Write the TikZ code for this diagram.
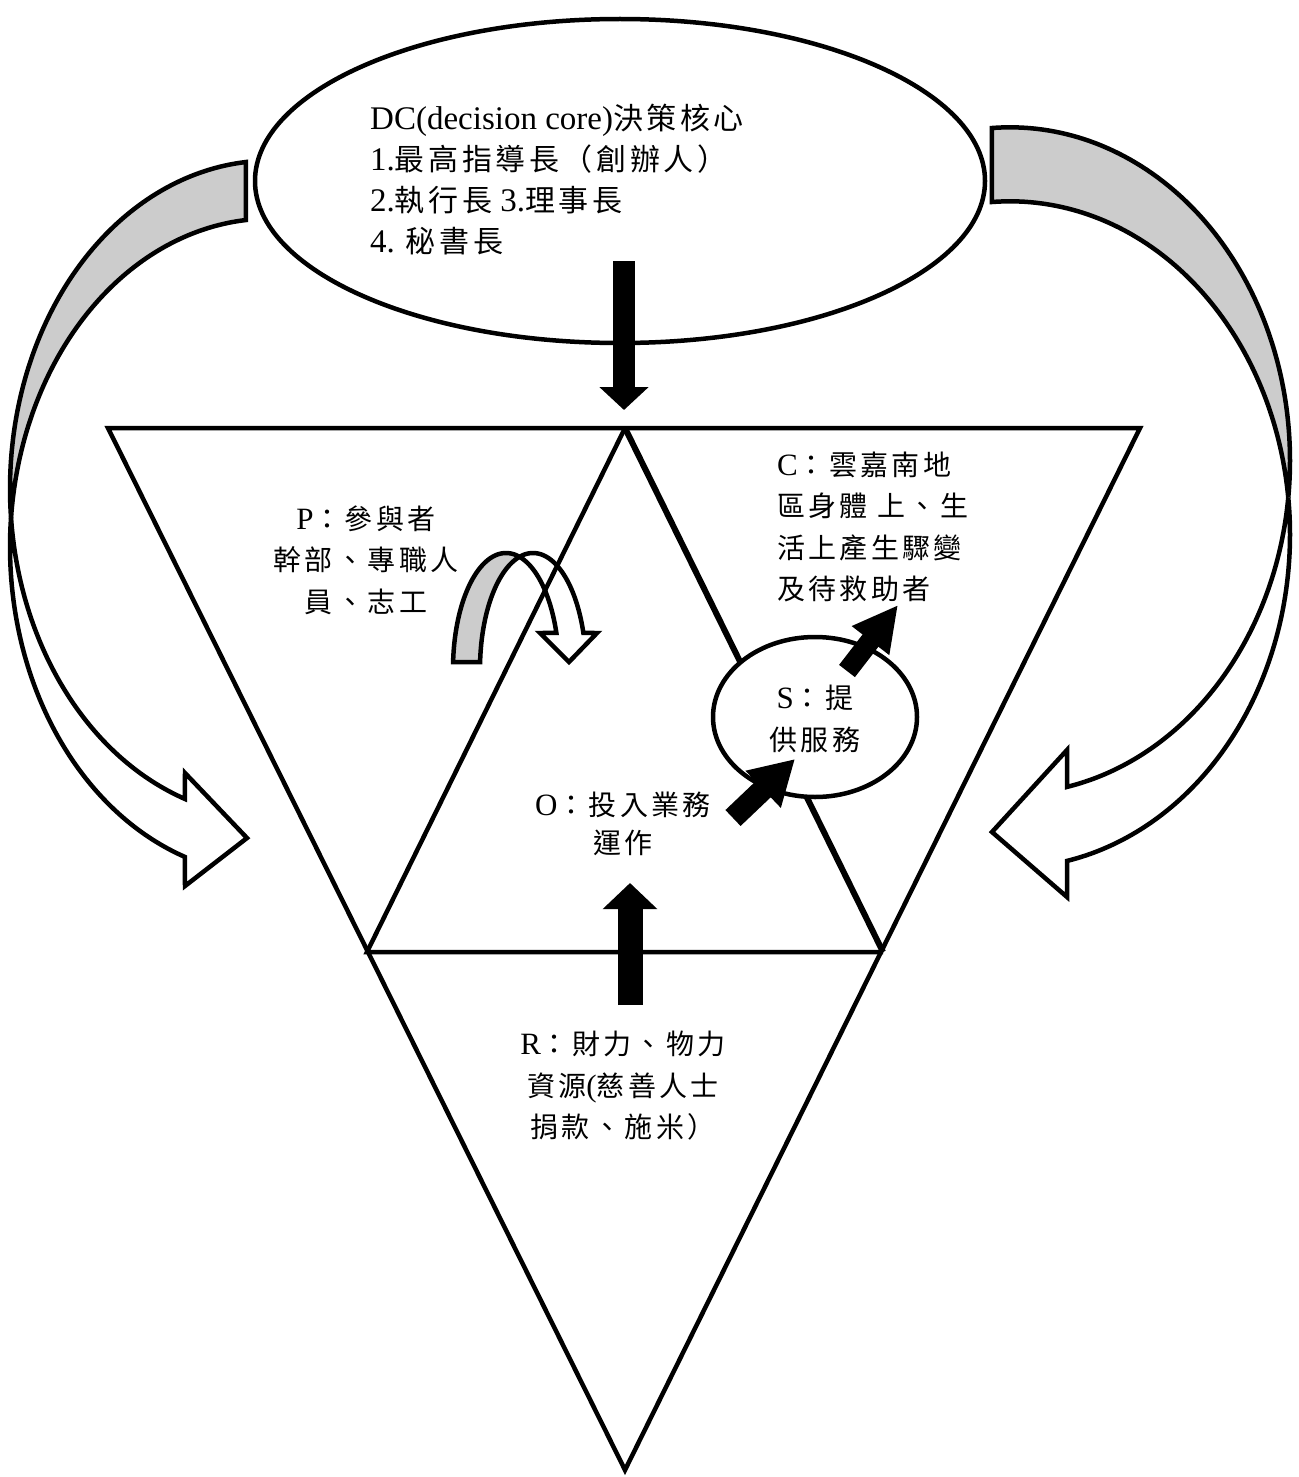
\documentclass[tikz,border=0pt]{standalone}
\usepackage{fontspec}
\setmainfont{Liberation Serif}
\newfontfamily\cjk{Noto Sans CJK TC}[LetterSpace=12]
\newcommand\latn[2]{{\fontsize{#1}{0}\selectfont #2}}
\usetikzlibrary{arrows.meta}
\definecolor{bandgray}{RGB}{204,204,204}
\begin{document}
\begin{tikzpicture}[x=1pt,y=-1pt,
  outl/.style={line width=4.5pt, draw=black, line join=miter},
  txt/.style={font=\fontsize{28}{41.5}\selectfont, inner sep=0pt},
  blockarrow/.style={line width=#1, draw=black}]
\useasboundingbox (0,0) rectangle (1298,1477);
\fill[white] (0,0) rectangle (1298,1477);

% ---- left curved arrow (back band gray, front band white)
\filldraw[outl, fill=bandgray]
  plot[domain=264.7:174.93, samples=80] ({270+260*cos(\x)}, {488.8+328.2*sin(\x)})
  -- plot[domain=185.07:264.7, samples=80] ({270+260*cos(\x)}, {546.8+328.2*sin(\x)})
  -- cycle;
\filldraw[outl, fill=white]
  plot[domain=174.93:109.1, samples=80] ({270+260*cos(\x)}, {488.8+328.2*sin(\x)})
  -- (185,773) -- (247,838) -- (185,886)
  -- plot[domain=109.1:185.07, samples=80] ({270+260*cos(\x)}, {546.8+328.2*sin(\x)})
  -- cycle;

% ---- right curved arrow
\filldraw[outl, fill=bandgray]
  plot[domain=266.3:366.37, samples=80] ({1010+280*cos(\x)}, {460.6+333.3*sin(\x)})
  -- plot[domain=353.63:266.3, samples=80] ({1010+280*cos(\x)}, {534.6+333.3*sin(\x)})
  -- cycle;
\filldraw[outl, fill=white]
  plot[domain=366.37:438.25, samples=80] ({1010+280*cos(\x)}, {460.6+333.3*sin(\x)})
  -- (1067,750) -- (992,832) -- (1067,897)
  -- plot[domain=438.25:353.63, samples=80] ({1010+280*cos(\x)}, {534.6+333.3*sin(\x)})
  -- cycle;

% ---- P curved arrow
\filldraw[outl, fill=bandgray]
  plot[domain=183.46:284.76, samples=60] ({506+53*cos(\x)}, {669+116*sin(\x)})
  -- plot[domain=255.24:183.46, samples=60] ({533+53*cos(\x)}, {669+116*sin(\x)})
  -- cycle;
\filldraw[outl, fill=white]
  plot[domain=284.76:341.9, samples=60] ({506+53*cos(\x)}, {669+116*sin(\x)})
  -- (540,633) -- (569,662) -- (597,633)
  -- plot[domain=341.9:255.24, samples=60] ({533+53*cos(\x)}, {669+116*sin(\x)})
  -- cycle;

% ---- triangles
\coordinate (TL) at (108,428);
\coordinate (TR) at (1140,428);
\coordinate (BT) at (625,1470);
\coordinate (AP) at (625,428);
\coordinate (IL) at (367,952);
\coordinate (IR) at (883,952);
\draw[outl] (TL) -- (TR) -- (BT) -- cycle;
\draw[outl] (IR) -- (IL) -- (AP);
\draw[line width=6pt] (AP) -- (IR);

% ---- S ellipse
\filldraw[outl, fill=white] (815,717) ellipse [x radius=102, y radius=80];
% ---- DC ellipse
\draw[outl] (620,181) ellipse [x radius=365, y radius=162];

% ---- text
\node[txt, anchor=west, align=left, font=\fontsize{30}{41}\selectfont] (dc) at (370,180)
  {\latn{33}{DC(decision core)}{\cjk 決策核心}\\
   \latn{33}{1.}{\cjk 最高指導長（創辦人）}\\
   \latn{33}{2.}{\cjk 執行長}\latn{33}{ 3.}{\cjk 理事長}\\
   \latn{33}{4. }{\cjk 秘書長}};
\node[txt, align=center] (p) at (366,560)
  {\latn{31}{P}{\cjk ：參與者}\\{\cjk 幹部、專職人}\\{\cjk 員、志工}};
\node[txt, anchor=west, align=left] (c) at (777,527)
  {\latn{31}{C}{\cjk ：雲嘉南地}\\{\cjk 區身體\ 上、生}\\{\cjk 活上產生驟變}\\{\cjk 及待救助者}};
\node[txt, align=center] (s) at (815,719)
  {\latn{31}{S}{\cjk ：提}\\{\cjk 供服務}};
\node[txt, align=center, font=\fontsize{28}{38}\selectfont] (o) at (623,824)
  {\latn{31}{O}{\cjk ：投入業務}\\{\cjk 運作}};
\node[txt, align=center] (r) at (623,1086)
  {\latn{31}{R}{\cjk ：財力、物力}\\{\cjk 資源}\latn{31}{(}{\cjk 慈善人士}\\{\cjk 捐款、施米）}};

% ---- black block arrows
\coordinate (dcA) at (624,261);
\coordinate (dcB) at (624,410);
\draw[blockarrow=22pt, -{Triangle[length=23pt,width=48pt]}] (dcA) -- (dcB);
\coordinate (rA) at (630,1005);
\coordinate (rB) at (630,883);
\draw[blockarrow=25pt, -{Triangle[length=26pt,width=53pt]}] (rA) -- (rB);
\coordinate (oA) at (733,818);
\coordinate (oB) at (795,759);
\draw[blockarrow=22pt, -{Triangle[length=44pt,width=48pt]}] (oA) -- (oB);
\coordinate (sA) at (847,671);
\coordinate (sB) at (898,605);
\draw[blockarrow=20pt, -{Triangle[length=45pt,width=44pt]}] (sA) -- (sB);
\end{tikzpicture}
\end{document}
